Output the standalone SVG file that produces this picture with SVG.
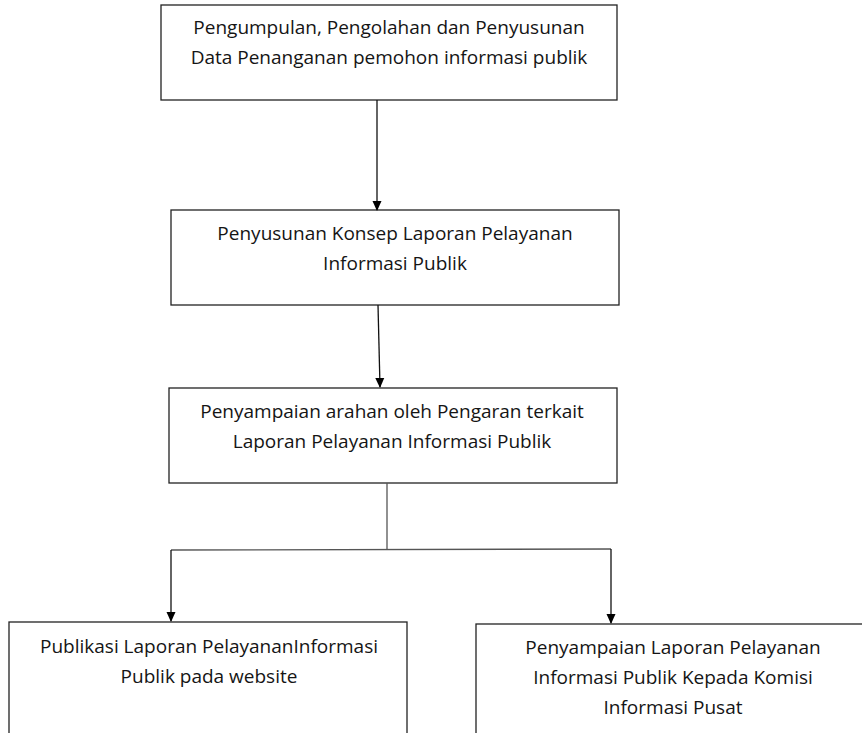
<svg xmlns="http://www.w3.org/2000/svg" width="862" height="733" viewBox="0 0 862 733">
<defs>
<marker id="arr" markerWidth="10" markerHeight="10" refX="9" refY="5" orient="auto" markerUnits="userSpaceOnUse">
<path d="M0,0.5 L10,5 L0,9.5 Z" fill="#000"/>
</marker>
<style>
.box{fill:#fff;stroke:#222;stroke-width:1.3}
.t{font-family:"Open Sans","Liberation Sans",sans-serif;font-size:19px;fill:#151515;text-anchor:middle}
.c{fill:none;stroke:#111;stroke-width:1.3}
.g{fill:none;stroke:#555;stroke-width:1.3}
</style>
</defs>
<rect width="862" height="733" fill="#fff"/>
<g id="n1">
<rect class="box" x="161" y="5" width="456" height="95"/>
<text class="t" x="389" y="34">Pengumpulan, Pengolahan dan Penyusunan</text>
<text class="t" x="389" y="64">Data Penanganan pemohon informasi publik</text>
</g>
<g id="n2">
<rect class="box" x="171" y="210" width="448" height="95"/>
<text class="t" x="395" y="240">Penyusunan Konsep Laporan Pelayanan</text>
<text class="t" x="395" y="270">Informasi Publik</text>
</g>
<g id="n3">
<rect class="box" x="169" y="388" width="448" height="95"/>
<text class="t" x="392" y="418">Penyampaian arahan oleh Pengaran terkait</text>
<text class="t" x="392" y="448">Laporan Pelayanan Informasi Publik</text>
</g>
<g id="n4">
<rect class="box" x="9" y="622" width="398" height="120"/>
<text class="t" x="209" y="653">Publikasi Laporan PelayananInformasi</text>
<text class="t" x="209" y="683">Publik pada website</text>
</g>
<g id="n5">
<rect class="box" x="476" y="624" width="400" height="120"/>
<text class="t" x="673" y="654">Penyampaian Laporan Pelayanan</text>
<text class="t" x="673" y="684">Informasi Publik Kepada Komisi</text>
<text class="t" x="673" y="714">Informasi Pusat</text>
</g>
<g id="connectors">
<line class="c" x1="377" y1="100" x2="377" y2="210" marker-end="url(#arr)"/>
<line class="c" x1="378" y1="305" x2="380" y2="387" marker-end="url(#arr)"/>
<polyline class="g" points="387,483 387,550"/>
<polyline class="g" points="171,550 611,549"/>
<line class="c" x1="171" y1="550" x2="171" y2="621" marker-end="url(#arr)"/>
<line class="c" x1="611" y1="549" x2="611" y2="623" marker-end="url(#arr)"/>
</g>
</svg>
